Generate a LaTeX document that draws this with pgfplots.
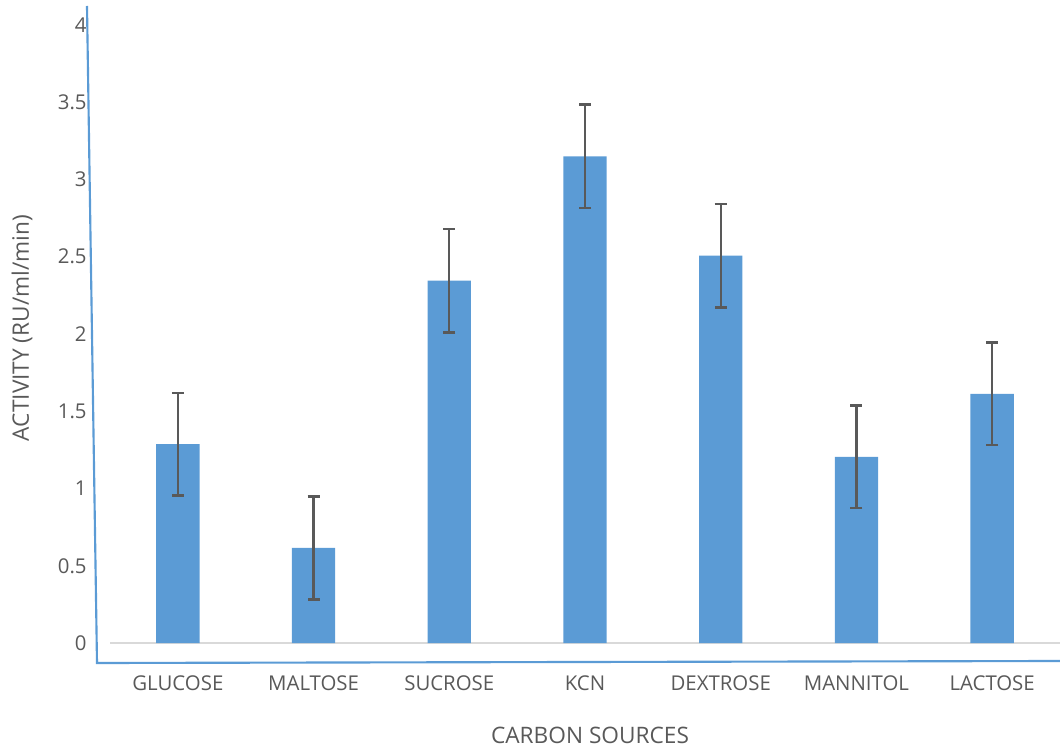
\documentclass[border=0pt]{standalone}
\usepackage{pgfplots}
\pgfplotsset{compat=1.18}
\usepackage{fontspec}
\setmainfont{Open Sans}
\definecolor{barblue}{HTML}{5B9BD5}
\definecolor{txtgray}{HTML}{595959}
\definecolor{gridgray}{HTML}{D9D9D9}
\pgfplotstableread{
x val err
0 1.287 0.333
1 0.615 0.333
2 2.345 0.335
3 3.150 0.335
4 2.507 0.335
5 1.205 0.333
6 1.613 0.333
}\datatable
\begin{document}
\begin{tikzpicture}[x=0.75pt,y=0.75pt]
\useasboundingbox (0,0) rectangle (1060,750);
\begin{axis}[
  at={(110*0.75pt,107*0.75pt)}, anchor=south west,
  scale only axis, width=950*0.75pt, height=618*0.75pt,
  xmin=-0.5, xmax=6.5, ymin=0, ymax=4,
  axis x line*=bottom, axis y line*=left,
  x axis line style={draw=gridgray, line width=1.2pt, -},
  y axis line style={draw=none},
  major tick length=0pt,
  xtick=data,
  xticklabels={GLUCOSE,MALTOSE,SUCROSE,KCN,DEXTROSE,MANNITOL,LACTOSE},
  ytick={0,0.5,...,4},
  yticklabels={0,0.5,1,1.5,2,2.5,3,3.5,4},
  tick label style={font=\fontsize{15.3}{18}\selectfont, text=txtgray},
  /pgf/number format/assume math mode=true,
  xticklabel style={anchor=north, yshift=-21pt},
  yticklabel style={anchor=east, xshift=-14pt},
  clip=false,
]
\addplot[ybar, bar width=32.5pt, fill=barblue, draw=none,
  error bars/.cd, y dir=both, y explicit,
  error bar style={line width=1.8pt, color=txtgray},
  error mark options={rotate=90, mark size=4.5pt, line width=1.8pt, color=txtgray}]
  table[x=x, y=val, y error=err]{\datatable};
\end{axis}
\draw[barblue, line width=1.6pt] (87,744) -- (97,87) -- (1060,89);
\node[text=txtgray, font=\fontsize{17}{20}\selectfont] at (590,15) {CARBON SOURCES};
\node[text=txtgray, font=\fontsize{17}{20}\selectfont, rotate=90] at (22,422) {ACTIVITY (RU/ml/min)};
\end{tikzpicture}
\end{document}
